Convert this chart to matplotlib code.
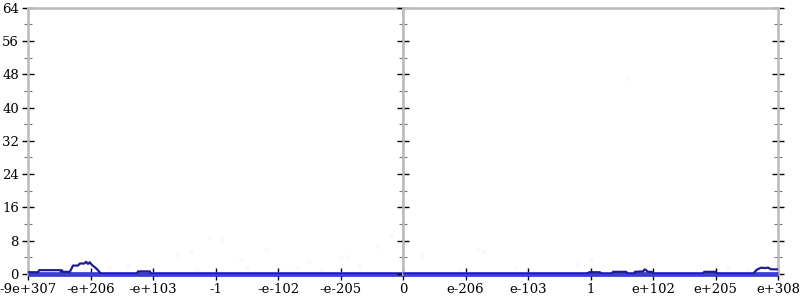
import numpy as np
import matplotlib.pyplot as plt

# x positions are in "tick slots": 0 = -max float, 6 = zero, 12 = +max float
tick_labels = ['-9e+307', '-e+206', '-e+103', '-1', '-e-102', '-e-205', '0',
               'e-206', 'e-103', '1', 'e+102', 'e+205', 'e+308']

# density curve (dark blue line)
line_x = [0.0, 0.16, 0.18, 0.51, 0.53, 0.54, 0.56, 0.67, 0.72, 0.80, 0.83, 0.90,
          0.93, 0.96, 0.99, 1.02, 1.10, 1.17, 1.74, 1.76, 1.95, 1.97, 8.93, 8.98,
          9.15, 9.18, 9.34, 9.36, 9.57, 9.60, 9.70, 9.71, 9.84, 9.87, 9.92, 9.98,
          10.02, 10.80, 10.82, 11.01, 11.02, 11.60, 11.66, 11.73, 11.79, 11.84,
          11.89, 12.0]
line_y = [0.4, 0.4, 0.9, 0.9, 0.5, 0.9, 0.5, 0.5, 2.0, 2.0, 2.5, 2.5,
          2.9, 2.4, 2.8, 2.2, 1.2, 0.0, 0.0, 0.6, 0.6, 0.0, 0.0, 0.4,
          0.4, 0.0, 0.0, 0.5, 0.5, 0.0, 0.0, 0.5, 0.6, 1.1, 0.5, 0.5,
          0.0, 0.0, 0.5, 0.5, 0.0, 0.0, 1.0, 1.5, 1.4, 1.5,
          1.1, 1.1]

# faint sample dots
dot_x = [0.9, 1.3, 1.6, 2.4, 2.6, 2.7, 2.9, 3.1, 3.4, 3.5, 3.8, 4.0, 4.3, 4.5,
         4.7, 5.0, 5.1, 5.3, 5.6, 5.8, 6.3, 6.9, 7.2, 7.3, 7.8, 8.0, 8.8, 9.0,
         10.0, 11.2, 11.5, 1.2, 1.6, 2.1, 3.3, 9.6, 10.5]
dot_y = [0.8, 1.5, 2.0, 4.6, 5.2, 1.2, 8.7, 8.4, 3.5, 1.3, 5.7, 2.0, 1.4, 3.1,
         0.9, 3.8, 4.1, 1.9, 6.8, 9.4, 4.6, 1.1, 6.0, 5.2, 1.6, 0.9, 2.3, 3.5,
         2.5, 1.5, 0.6, 64, 64, 64, 64, 47, 64]

fig = plt.figure(figsize=(8, 3), dpi=100)
ax1 = fig.add_axes([0.035, 0.087, 0.46875, 0.887])
ax2 = fig.add_axes([0.50375, 0.087, 0.46875, 0.887], sharey=ax1)

grey = '#bbbbbb'
for ax, (lo, hi) in ((ax1, (0, 6)), (ax2, (6, 12))):
    ax.scatter(dot_x, dot_y, s=14, color='#5a5ae6', alpha=0.04, linewidths=0)
    ax.plot([lo, hi], [0, 0], color='#3c3cd6', lw=3.4, solid_capstyle='butt',
            clip_on=False, zorder=3)
    ax.plot(line_x, line_y, color='#1d1d8e', lw=1.6, zorder=4)
    ax.set_xlim(lo, hi)
    ax.set_ylim(0, 64)
    ax.set_yticks(np.arange(0, 65, 8))
    ax.set_yticks(np.arange(4, 64, 8), minor=True)
    for s in ax.spines.values():
        s.set_color(grey)
        s.set_linewidth(1.8)
        s.set_zorder(2)
    ax.tick_params(axis='both', which='major', direction='inout', length=9,
                   width=1.0, color='black', labelsize=9.5, pad=2)
    ax.tick_params(axis='y', which='minor', direction='inout', length=6,
                   width=0.8, color='#777777')
    ax.tick_params(axis='x', which='minor', bottom=False)

ax1.set_xticks(range(0, 6))
ax1.set_xticklabels(tick_labels[:6], family='DejaVu Serif', fontsize=9.5)
ax1.set_yticklabels([str(v) for v in range(0, 65, 8)], family='DejaVu Serif', fontsize=9.5)

ax2.set_xticks(range(6, 13))
ax2.set_xticklabels(tick_labels[6:], family='DejaVu Serif', fontsize=9.5)
ax2.tick_params(axis='y', which='both', labelleft=False, right=True)

fig.savefig('out.png', dpi=100)
